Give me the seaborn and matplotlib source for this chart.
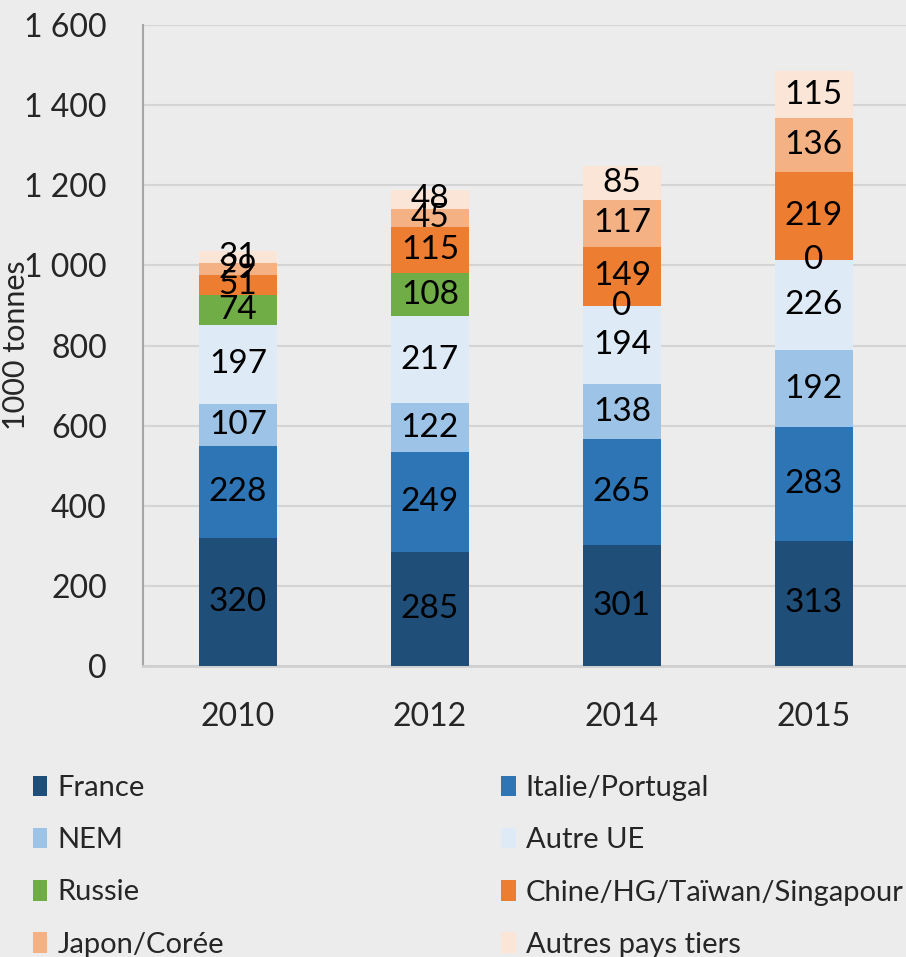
import matplotlib
matplotlib.use('Agg')
import matplotlib.pyplot as plt
from matplotlib.patches import Patch
from matplotlib.ticker import FuncFormatter
import seaborn as sns
import numpy as np
import pandas as pd

years = ['2010', '2012', '2014', '2015']
series = ['France', 'Italie/Portugal', 'NEM', 'Autre UE', 'Russie',
          'Chine/HG/Taïwan/Singapour', 'Japon/Corée', 'Autres pays tiers']
france = [320, 285, 301, 313]
italie = [228, 249, 265, 283]
nem = [107, 122, 138, 192]
autre_ue = [197, 217, 194, 226]
russie = [74, 108, 0, 0]
chine = [51, 115, 149, 219]
japon = [29, 45, 117, 136]
autres = [31, 48, 85, 115]
colors = ['#1f4e79', '#2e75b6', '#9dc3e6', '#deebf7', '#70ad47',
          '#ed7d31', '#f4b183', '#fbe5d6']

df = pd.DataFrame(dict(zip(series, [france, italie, nem, autre_ue, russie,
                                    chine, japon, autres])), index=years)

sns.set_style('white')
plt.rcParams['font.family'] = ['Lato', 'DejaVu Sans']
bg = '#ececec'

fig = plt.figure(figsize=(9.06, 9.57), dpi=100, facecolor=bg)
ax = fig.add_axes([143/906, 1 - 666/957, 763/906, 641/957])
ax.set_facecolor(bg)

# stacked bars, one layer per origin
bottom = np.zeros(len(years))
for name, c in zip(series, colors):
    vals = df[name].values
    sns.barplot(x=years, y=vals, bottom=bottom, color=c, width=0.41,
                saturation=1, linewidth=0, ax=ax, zorder=3)
    cont = ax.containers[-1]
    ax.bar_label(cont, labels=[str(v) for v in vals], label_type='center',
                 fontsize=24, color='black', zorder=4)
    bottom = bottom + vals

ax.set_ylim(0, 1600)
ax.set_xlim(-0.495, 3.48)
ax.set_yticks(range(0, 1601, 200))
ax.yaxis.set_major_formatter(FuncFormatter(lambda v, p: f'{int(v):,}'.replace(',', ' ')))
ax.tick_params(axis='both', length=0, labelsize=23, pad=26)
ax.grid(axis='y', color='#d4d4d4', linewidth=1.5, zorder=0)
ax.set_axisbelow(True)
for s in ['top', 'right']:
    ax.spines[s].set_visible(False)
ax.spines['left'].set_color('#a6a6a6')
ax.spines['left'].set_linewidth(1.5)
ax.spines['bottom'].set_color('#d0d0d0')
ax.spines['bottom'].set_linewidth(2)
ax.set_xlabel('')
ax.set_ylabel('1000 tonnes', fontsize=22)
ax.yaxis.set_label_coords(-0.148, 0.5)

handles = [Patch(facecolor=c, edgecolor='none') for c in colors]
for col, x0 in [(0, 0.036), (1, 0.553)]:
    idx = [col, col + 2, col + 4, col + 6]
    fig.legend([handles[i] for i in idx], [series[i] for i in idx],
               loc='upper left', bbox_to_anchor=(x0, 1 - 775/957),
               frameon=False, fontsize=21, handlelength=0.5, handleheight=0.7,
               handletextpad=0.35, labelspacing=0.9, borderaxespad=0, borderpad=0)

fig.savefig('out.png', dpi=100, facecolor=bg)
